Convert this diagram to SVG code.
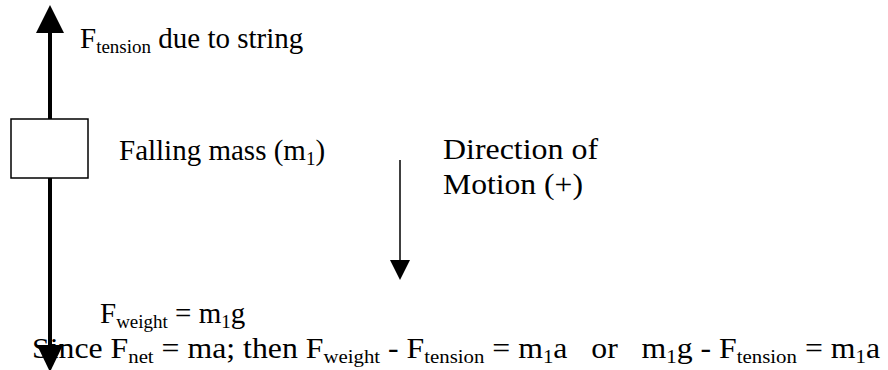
<svg xmlns="http://www.w3.org/2000/svg" width="888" height="370" viewBox="0 0 888 370">
<style>
text{font-family:"Liberation Serif","Times New Roman",Tinos,"Noto Serif","DejaVu Serif",serif;font-size:29px;fill:#000;white-space:pre}
.sub{font-size:19px}
.thick{stroke:#000;stroke-width:4;fill:none}
.thin{stroke:#000;stroke-width:1.5;fill:none}
</style>
<rect width="888" height="370" fill="#fff"/>
<g id="connectors">
<line class="thick" x1="50" y1="30" x2="50" y2="348"/>
<polygon points="50,5 64,33 36,33" fill="#000"/>
<polygon points="37,345 63,345 50,372" fill="#000"/>
<line class="thin" x1="400" y1="160" x2="400" y2="262"/>
<polygon points="390,260 410,260 400,280" fill="#000"/>
</g>
<g id="mass">
<rect x="11" y="119" width="77" height="59" fill="#fff" stroke="#000" stroke-width="1.5"/>
<text x="119" y="160">Falling mass (m<tspan class="sub" dy="5">1</tspan><tspan dy="-5">)</tspan></text>
</g>
<g id="tension">
<text x="80" y="48">F<tspan class="sub" dy="5">tension</tspan><tspan dy="-5"> due to string</tspan></text>
</g>
<g id="direction">
<text x="443" y="159" textLength="155" lengthAdjust="spacingAndGlyphs">Direction of</text>
<text x="443" y="194" textLength="140" lengthAdjust="spacingAndGlyphs">Motion (+)</text>
</g>
<g id="weight">
<text x="100" y="323">F<tspan class="sub" dy="5">weight</tspan><tspan dy="-5"> = m</tspan><tspan class="sub" dy="5">1</tspan><tspan dy="-5">g</tspan></text>
</g>
<g id="equation">
<text x="32" y="358" textLength="848" lengthAdjust="spacingAndGlyphs">Since F<tspan class="sub" dy="5">net</tspan><tspan dy="-5"> = ma; then F</tspan><tspan class="sub" dy="5">weight</tspan><tspan dy="-5"> - F</tspan><tspan class="sub" dy="5">tension</tspan><tspan dy="-5"> = m</tspan><tspan class="sub" dy="5">1</tspan><tspan dy="-5">a   or   m</tspan><tspan class="sub" dy="5">1</tspan><tspan dy="-5">g - F</tspan><tspan class="sub" dy="5">tension</tspan><tspan dy="-5"> = m</tspan><tspan class="sub" dy="5">1</tspan><tspan dy="-5">a</tspan></text>
</g>
</svg>
